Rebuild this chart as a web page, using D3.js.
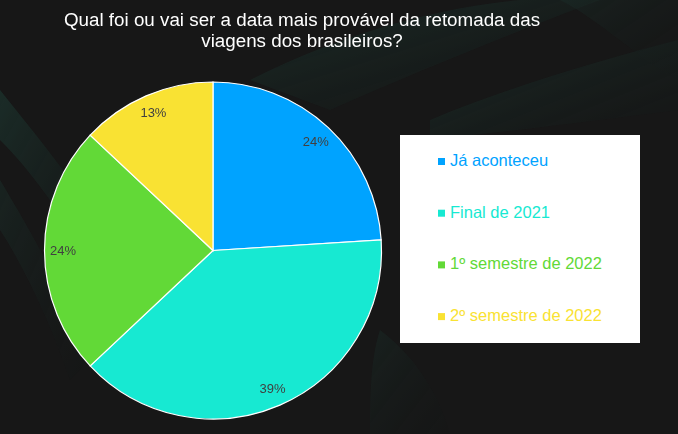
<!DOCTYPE html>
<html>
<head>
<meta charset="utf-8">
<script src="https://cdn.jsdelivr.net/npm/d3@7"></script>
<style>
  html, body { margin: 0; padding: 0; background: #171717; }
  svg { display: block; }
</style>
</head>
<body>
<svg id="chart" width="678" height="434"></svg>
<script>
const titleLines = ["Qual foi ou vai ser a data mais provável da retomada das", "viagens dos brasileiros?"];
const categories = ["Já aconteceu", "Final de 2021", "1º semestre de 2022", "2º semestre de 2022"];
const values = [24, 39, 24, 13];
const colors = ["#00A3FF", "#17E9D2", "#62D937", "#F9E233"];

const W = 678, H = 434;
const svg = d3.select("#chart");

// background
const defs = svg.append("defs");
const g1 = defs.append("linearGradient").attr("id", "leaf").attr("x1", "0").attr("y1", "0").attr("x2", "1").attr("y2", "1");
g1.append("stop").attr("offset", "0").attr("stop-color", "#1f3f37").attr("stop-opacity", 0.9);
g1.append("stop").attr("offset", "1").attr("stop-color", "#141a19").attr("stop-opacity", 0.2);
svg.append("rect").attr("width", W).attr("height", H).attr("fill", "#171717");
const bg = svg.append("g").attr("opacity", 0.6);
bg.append("path").attr("d", "M250,80 C330,40 420,10 520,0 L600,0 C520,30 420,70 330,110 Z").attr("fill", "url(#leaf)");
bg.append("path").attr("d", "M430,120 C500,90 600,60 678,40 L678,110 C600,120 520,130 430,140 Z").attr("fill", "url(#leaf)");
bg.append("path").attr("d", "M0,90 C40,140 90,200 120,260 L110,300 C80,240 40,180 0,140 Z").attr("fill", "url(#leaf)");
bg.append("path").attr("d", "M0,180 C30,230 70,300 90,360 L70,380 C50,320 20,260 0,230 Z").attr("fill", "url(#leaf)").attr("opacity", 0.6);
bg.append("path").attr("d", "M380,330 C420,360 440,400 450,434 L370,434 C370,400 370,360 380,330 Z").attr("fill", "url(#leaf)").attr("opacity", 0.5);
bg.append("path").attr("d", "M560,0 C600,20 640,60 678,80 L678,0 Z").attr("fill", "url(#leaf)").attr("opacity", 0.5);

// title
const title = svg.append("text")
  .attr("text-anchor", "middle")
  .attr("fill", "#ffffff")
  .attr("font-family", "Liberation Sans, Arial, sans-serif")
  .attr("font-size", 18.8);
titleLines.forEach((t, i) => {
  title.append("tspan").attr("x", 302).attr("y", 26 + i * 21).text(t);
});

// pie
const cx = 213, cy = 250.5, r = 168.5;
const pie = d3.pie().sort(null).value(d => d)(values);
const arc = d3.arc().innerRadius(0).outerRadius(r);
const labelArc = d3.arc().innerRadius(150).outerRadius(150);
const color = d3.scaleOrdinal().domain(categories).range(colors);

const pg = svg.append("g").attr("transform", `translate(${cx},${cy})`);
pg.selectAll("path.slice").data(pie).join("path")
  .attr("class", "slice")
  .attr("d", arc)
  .attr("fill", (d, i) => color(categories[i]))
  .attr("stroke", "#ffffff")
  .attr("stroke-width", 1.2);

pg.selectAll("text.lbl").data(pie).join("text")
  .attr("class", "lbl")
  .attr("transform", d => `translate(${labelArc.centroid(d)})`)
  .attr("dy", "0.35em")
  .attr("text-anchor", "middle")
  .attr("fill", "#404040")
  .attr("font-family", "Liberation Sans, Arial, sans-serif")
  .attr("font-size", 13)
  .text(d => d.value + "%");

// legend
const lg = svg.append("g");
lg.append("rect").attr("x", 400).attr("y", 135).attr("width", 240).attr("height", 208).attr("fill", "#ffffff");
const items = lg.selectAll("g.item").data(categories).join("g")
  .attr("class", "item")
  .attr("transform", (d, i) => `translate(438,${166 + i * 51.7})`);
items.append("rect").attr("x", 0).attr("y", -8).attr("width", 7).attr("height", 7).attr("fill", d => color(d));
items.append("text").attr("x", 12).attr("y", 0)
  .attr("fill", d => color(d))
  .attr("font-family", "Liberation Sans, Arial, sans-serif")
  .attr("font-size", 16.5)
  .text(d => d);
</script>
</body>
</html>
